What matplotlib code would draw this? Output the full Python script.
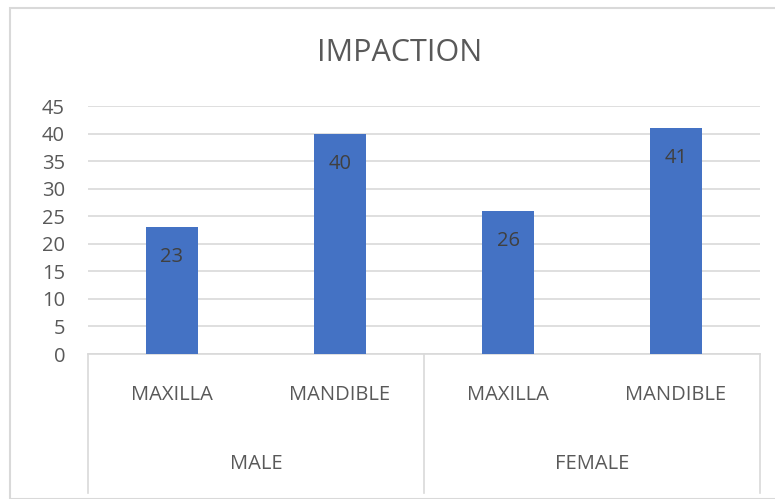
import matplotlib.pyplot as plt
import matplotlib.transforms as mtransforms
from matplotlib.patches import Rectangle

title = "IMPACTION"
groups = ["MALE", "FEMALE"]
sub_labels = ["MAXILLA", "MANDIBLE", "MAXILLA", "MANDIBLE"]
values = [23, 40, 26, 41]
y_ticks = [0, 5, 10, 15, 20, 25, 30, 35, 40, 45]

W, H = 775, 499
BAR_COLOR = "#4472c4"
GRID_COLOR = "#d9d9d9"
TEXT_COLOR = "#595959"

plt.rcParams["font.family"] = ["Open Sans", "DejaVu Sans"]

fig = plt.figure(figsize=(W / 100, H / 100), dpi=100)

# outer chart border
fig.patches.append(Rectangle((10 / W, 0), 1.2, 1 - 8 / H, transform=fig.transFigure,
                             fill=False, edgecolor=GRID_COLOR, linewidth=1.5))

ax = fig.add_axes([88 / W, 1 - 354 / H, (760 - 88) / W, (354 - 106) / H])
x = list(range(len(values)))
bars = ax.bar(x, values, width=0.31, color=BAR_COLOR, zorder=3)
for rect, v in zip(bars, values):
    ax.annotate(str(v), (rect.get_x() + rect.get_width() / 2, v), xytext=(0, -30),
                textcoords="offset pixels",
                ha="center", va="center", fontsize=14.5, color="#404040", zorder=4)

ax.set_xlim(-0.5, len(values) - 0.5)
ax.set_ylim(0, 45)
ax.set_yticks(y_ticks)
ax.tick_params(axis="y", length=0, pad=16.5, labelsize=14.5, labelcolor=TEXT_COLOR)
ax.set_xticks([])
ax.yaxis.grid(True, color=GRID_COLOR, linewidth=1.2, zorder=0)
for s in ["top", "right", "left"]:
    ax.spines[s].set_visible(False)
ax.spines["bottom"].set_color(GRID_COLOR)
ax.spines["bottom"].set_linewidth(1.2)

# two-level category axis
trans = mtransforms.blended_transform_factory(ax.transData, ax.transAxes)
for xs in [-0.5, 1.5, 3.5]:
    ax.plot([xs, xs], [0, -0.56], transform=trans, color=GRID_COLOR,
            linewidth=1.2, clip_on=False)
for xi, lab in zip(x, sub_labels):
    ax.text(xi, -0.167, lab, transform=trans, ha="center", va="center",
            fontsize=14.5, color=TEXT_COLOR)
for gi, g in enumerate(groups):
    ax.text(gi * 2 + 0.5, -0.443, g, transform=trans, ha="center", va="center",
            fontsize=14.5, color=TEXT_COLOR)

fig.text(400 / W, 1 - 53 / H, title, ha="center", va="center",
         fontsize=22, color=TEXT_COLOR)

fig.savefig("out.png", dpi=100)
